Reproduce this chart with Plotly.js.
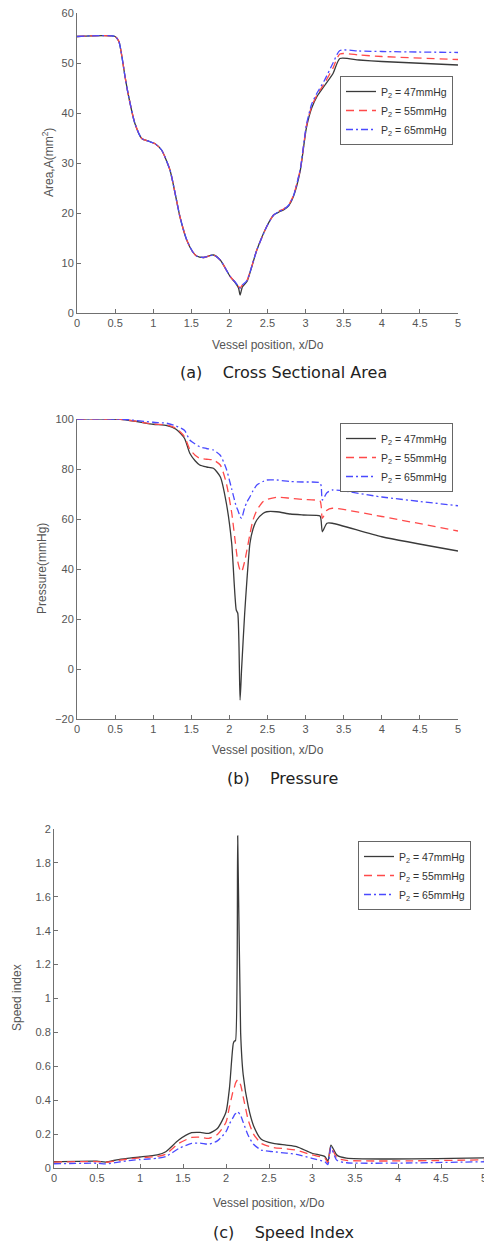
<!DOCTYPE html>
<html>
<head>
<meta charset="utf-8">
<script src="https://cdn.plot.ly/plotly-3.0.1.min.js"></script>
<style>html,body{margin:0;padding:0;background:#fff;}#chart{width:484px;height:1248px;}</style>
</head>
<body>
<div id="chart"></div>
<script>
// ---------- Data ----------
const seriesNames = ['P<sub>2</sub> = 47mmHg', 'P<sub>2</sub> = 55mmHg', 'P<sub>2</sub> = 65mmHg'];

// (a) Cross sectional area
const xA = [0, 0.5, 0.55, 0.63, 0.67, 0.76, 0.85, 0.95, 1.02, 1.11, 1.22, 1.3, 1.35, 1.44, 1.52, 1.57, 1.66, 1.79, 1.88, 2.01, 2.08, 2.12, 2.14, 2.17, 2.23, 2.36, 2.49, 2.58, 2.65, 2.71, 2.78, 2.84, 2.93, 3.01, 3.08, 3.15, 3.25, 3.36, 3.45, 3.7, 4.0, 5];
const areaP47 = [55.3, 55.3, 54.3, 47.3, 43.9, 37.9, 34.9, 34.3, 33.9, 32.6, 28.6, 23.0, 19.3, 14.6, 12.2, 11.4, 11.1, 11.6, 10.6, 7.3, 6.0, 5.0, 3.6, 5.2, 6.3, 12.6, 17.3, 19.6, 20.2, 20.6, 21.5, 23.3, 28.5, 37.0, 41.0, 43.3, 45.5, 47.9, 50.9, 50.6, 50.3, 49.6];
const areaP55 = [55.3, 55.3, 54.3, 47.3, 43.9, 37.9, 34.9, 34.3, 33.9, 32.6, 28.6, 23.0, 19.3, 14.6, 12.2, 11.4, 11.1, 11.6, 10.6, 7.3, 6.1, 5.3, 5.0, 5.6, 6.5, 12.6, 17.3, 19.6, 20.4, 20.8, 21.7, 23.5, 28.7, 37.3, 41.4, 43.6, 46.0, 49.0, 51.8, 51.6, 51.3, 50.7];
const areaP65 = [55.3, 55.3, 54.3, 47.3, 43.9, 37.9, 34.9, 34.3, 33.9, 32.6, 28.6, 23.0, 19.3, 14.6, 12.2, 11.4, 11.1, 11.6, 10.6, 7.3, 6.1, 5.3, 5.0, 5.6, 6.5, 12.6, 17.3, 19.6, 20.3, 20.7, 21.6, 23.4, 28.8, 37.6, 41.8, 44.0, 46.6, 50.0, 52.5, 52.4, 52.3, 52.1];

// (b) Pressure
const xB = [0, 0.6, 1.0, 1.18, 1.3, 1.41, 1.48, 1.55, 1.61, 1.7, 1.79, 1.88, 1.96, 2.03, 2.09, 2.11, 2.14, 2.16, 2.20, 2.23, 2.27, 2.31, 2.36, 2.44, 2.49, 2.62, 2.80, 2.97, 3.19, 3.205, 3.22, 3.28, 3.35, 4.0, 5];
const presP47 = [100, 99.8, 97.9, 97.4, 95.9, 92.3, 86.3, 83.3, 81.6, 80.8, 80.3, 76.9, 66.3, 50.3, 23.6, 22.3, -12.4, 0, 22, 35.6, 50.3, 56, 59.6, 62.2, 62.9, 62.9, 62.0, 61.6, 61.2, 59, 54.9, 58.3, 58.3, 52.9, 47.2];
const presP55 = [100, 99.8, 98.0, 97.6, 96.3, 93.0, 87.9, 85.5, 84.3, 83.9, 83.6, 81.6, 74.3, 62.5, 47.5, 43, 39.5, 38.9, 43, 47.6, 54, 59.6, 63.5, 66.9, 67.8, 68.7, 68.3, 67.8, 67.2, 65, 60.3, 63.5, 64.3, 61, 55.2];
const presP65 = [100, 99.9, 98.7, 98.3, 97.2, 95.5, 91.6, 90.0, 88.9, 88.2, 87.6, 85.5, 80.0, 72, 65, 63.6, 61, 60.3, 64.5, 66.8, 68.9, 71.3, 73.6, 75.0, 75.6, 75.6, 75.0, 74.8, 74.5, 73, 67.6, 70.5, 71.6, 68.8, 65.3];

// (c) Speed index
const xC = [0, 0.5, 0.6, 0.75, 0.9, 1.0, 1.2, 1.3, 1.45, 1.6, 1.7, 1.8, 1.9, 2.0, 2.04, 2.085, 2.1, 2.11, 2.136, 2.17, 2.2, 2.26, 2.32, 2.41, 2.55, 2.7, 2.82, 3.0, 3.15, 3.185, 3.22, 3.29, 3.4, 5];
const speedP47 = [0.037, 0.04, 0.035, 0.05, 0.06, 0.065, 0.077, 0.096, 0.165, 0.208, 0.21, 0.204, 0.233, 0.33, 0.47, 0.735, 0.75, 0.75, 1.96, 0.8, 0.55, 0.36, 0.25, 0.17, 0.145, 0.135, 0.126, 0.087, 0.067, 0.04, 0.135, 0.076, 0.058, 0.06];
const speedP55 = [0.035, 0.038, 0.033, 0.045, 0.055, 0.06, 0.068, 0.082, 0.145, 0.18, 0.182, 0.175, 0.198, 0.27, 0.36, 0.46, 0.48, 0.5, 0.52, 0.49, 0.42, 0.28, 0.2, 0.145, 0.121, 0.113, 0.105, 0.077, 0.058, 0.03, 0.125, 0.06, 0.045, 0.048];
const speedP65 = [0.025, 0.028, 0.024, 0.035, 0.045, 0.05, 0.057, 0.067, 0.115, 0.145, 0.147, 0.14, 0.16, 0.214, 0.26, 0.3, 0.315, 0.32, 0.332, 0.31, 0.27, 0.19, 0.14, 0.106, 0.096, 0.088, 0.08, 0.057, 0.037, 0.02, 0.12, 0.045, 0.031, 0.037];

// ---------- Styles ----------
const W = 484, H = 1248;
const px = v => v / W;
const py = v => 1 - v / H;
const lineStyles = [
  {color: '#3a3a3a', width: 1.3, dash: 'solid'},
  {color: '#ff4a4a', width: 1.3, dash: '8px,5px'},
  {color: '#4a4aff', width: 1.3, dash: '7px,3px,2px,3px'}
];
const tickFont = {family: 'Liberation Sans, Arial, sans-serif', size: 11, color: '#555'};
function axis(extra) {
  return Object.assign({
    showline: true, linecolor: '#707070', linewidth: 1,
    ticks: 'inside', ticklen: 4, tickcolor: '#707070', tickwidth: 1,
    showgrid: false, zeroline: false, mirror: false,
    tickfont: tickFont, fixedrange: true
  }, extra);
}

const traces = [];
function addPanel(x, ys, xa, ya, lg, smoothing) {
  ys.forEach((y, i) => {
    traces.push({
      type: 'scatter', mode: 'lines', x: x, y: y,
      name: seriesNames[i], xaxis: xa, yaxis: ya, legend: lg,
      line: Object.assign({shape: 'spline', smoothing: smoothing}, lineStyles[i])
    });
  });
}
addPanel(xA, [areaP47, areaP55, areaP65], 'x', 'y', 'legend', 0.6);
addPanel(xB, [presP47, presP55, presP65], 'x2', 'y2', 'legend2', 0.6);
addPanel(xC, [speedP47, speedP55, speedP65], 'x3', 'y3', 'legend3', 0.6);

const legendBase = {
  bgcolor: '#fff', bordercolor: '#666', borderwidth: 1,
  font: {family: 'Liberation Sans, Arial, sans-serif', size: 10.5, color: '#333'},
  xref: 'paper', yref: 'paper', xanchor: 'right', yanchor: 'top',
  tracegroupgap: 0, itemwidth: 30
};

const axisTitleFont = {family: 'Liberation Sans, Arial, sans-serif', size: 12, color: '#555'};
const capFont = {family: 'DejaVu Sans, sans-serif', size: 16, color: '#222'};
function ann(text, x, y, font, angle) {
  return {text: text, x: px(x), y: py(y), xref: 'paper', yref: 'paper',
          xanchor: 'center', yanchor: 'middle', showarrow: false, font: font, textangle: angle || 0};
}
const sp = '\u00a0\u00a0\u00a0\u00a0';

const layout = {
  width: W, height: H,
  margin: {l: 0, r: 0, t: 0, b: 0},
  paper_bgcolor: '#fff', plot_bgcolor: '#fff',
  showlegend: true,
  xaxis: axis({domain: [px(77), px(458)], range: [0, 5], dtick: 0.5, anchor: 'y'}),
  yaxis: axis({domain: [py(313), py(13)], range: [0, 60], dtick: 10, anchor: 'x'}),
  xaxis2: axis({domain: [px(77), px(458)], range: [0, 5], dtick: 0.5, anchor: 'y2'}),
  yaxis2: axis({domain: [py(719), py(419)], range: [-20, 100], dtick: 20, anchor: 'x2'}),
  xaxis3: axis({domain: [px(54), 1], range: [0, 5], dtick: 0.5, anchor: 'y3', ticklabeloverflow: 'allow'}),
  yaxis3: axis({domain: [py(1168), py(829)], range: [0, 2], dtick: 0.2, anchor: 'x3'}),
  legend: Object.assign({}, legendBase, {x: px(453), y: py(76)}),
  legend2: Object.assign({}, legendBase, {x: px(453), y: py(423)}),
  legend3: Object.assign({}, legendBase, {x: px(471), y: py(841)}),
  annotations: [
    ann('Vessel position, x/Do', 267.5, 345, axisTitleFont),
    ann('Area,A(mm<sup>2</sup>)', 48, 163, axisTitleFont, -90),
    ann('(a)' + sp + 'Cross Sectional Area', 283, 372, capFont),
    ann('Vessel position, x/Do', 267.5, 750, axisTitleFont),
    ann('Pressure(mmHg)', 42, 569, axisTitleFont, -90),
    ann('(b)' + sp + 'Pressure', 282, 778, capFont),
    ann('Vessel position, x/Do', 268.5, 1203, axisTitleFont),
    ann('Speed index', 17, 998, axisTitleFont, -90),
    ann('(c)' + sp + 'Speed Index', 283, 1232, capFont)
  ]
};

Plotly.newPlot('chart', traces, layout, {displayModeBar: false, staticPlot: true});
</script>
</body>
</html>
